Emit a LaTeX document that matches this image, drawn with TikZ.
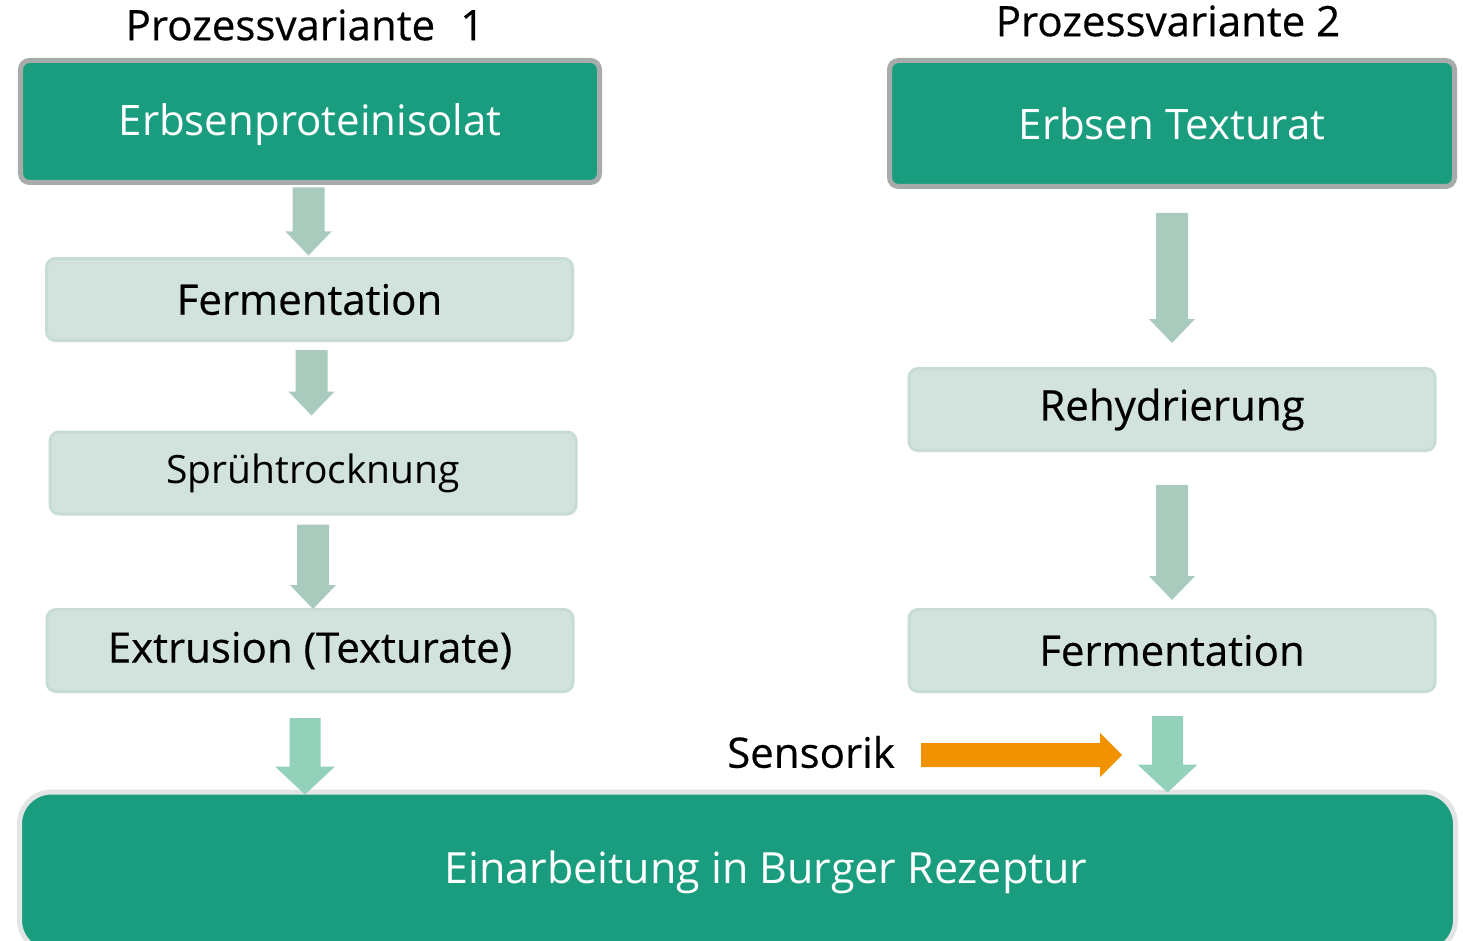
\documentclass[tikz,border=0pt]{standalone}
\usepackage{fontspec}
\setmainfont{Open Sans}
\newfontfamily\medfont{Open Sans}[FakeBold=0.45]
\usetikzlibrary{calc}

\definecolor{teal}{HTML}{1A9D7E}
\definecolor{tealedge}{HTML}{A7ACAA}
\definecolor{pale}{HTML}{D2E3DD}
\definecolor{paleedge}{HTML}{C7DDD4}
\definecolor{bigedge}{HTML}{E3E5E4}
\definecolor{sage}{HTML}{A9CBBE}
\definecolor{mint}{HTML}{93D1BA}
\definecolor{orange}{HTML}{F39200}

% block arrow pointing down: colour, start point, tip point
\newcommand{\downblock}[3]{%
  \path[fill=#1] let \p1=(#2), \p2=(#3) in
    (\x1-16pt,\y1) -- (\x1+16pt,\y1) -- (\x1+16pt,\y2+24pt) -- (\x1+23pt,\y2+24pt)
    -- (\x1,\y2) -- (\x1-23pt,\y2+24pt) -- (\x1-16pt,\y2+24pt) -- cycle;}
\newcommand{\downwide}[3]{%
  \path[fill=#1] let \p1=(#2), \p2=(#3) in
    (\x1-15.5pt,\y1) -- (\x1+15.5pt,\y1) -- (\x1+15.5pt,\y2+28pt) -- (\x1+30pt,\y2+28pt)
    -- (\x1,\y2) -- (\x1-30pt,\y2+28pt) -- (\x1-15.5pt,\y2+28pt) -- cycle;}

\begin{document}
\begin{tikzpicture}[x=1pt,y=-1pt,
  font=\fontsize{42}{48}\selectfont,
  headbox/.style={rectangle, rounded corners=9pt, fill=teal, draw=tealedge,
    line width=5pt, text=white, inner sep=0pt},
  stepbox/.style={rectangle, rounded corners=9pt, fill=pale, draw=paleedge,
    line width=3pt, text=black, inner sep=0pt, font=\fontsize{42}{48}\medfont,
    minimum width=526pt, minimum height=82pt},
  finalbox/.style={rectangle, rounded corners=32pt, fill=teal, draw=bigedge,
    line width=5pt, text=white, inner sep=0pt},
  title/.style={text=black, inner sep=0pt, font=\fontsize{42}{48}\medfont}]
\clip (0,0) rectangle (1463,941);
\fill[white] (0,0) rectangle (1463,941);

% column titles
\node[title] (t1) at (305,25) {Prozessvariante\hspace{0.6em}1};
\node[title] (t2) at (1168,21) {Prozessvariante 2};

% starting materials
\node[headbox, minimum width=579pt, minimum height=122pt] (iso) at (310,121.5) {};
\node[text=white, inner sep=0pt] (isotext) at (310,125) {Erbsenproteinisolat};
\node[headbox, minimum width=565pt, minimum height=126pt] (tex) at (1172,123.5) {};
\node[text=white, inner sep=0pt] (textext) at (1172,124) {Erbsen Texturat};

% process steps, variant 1
\node[stepbox] (ferm1) at (309.5,299.5) {Fermentation};
\node[stepbox, font=\fontsize{39}{44}\selectfont] (spray) at (313,473) {Sprühtrocknung};
\node[stepbox] (extr) at (310,650.5) {Extrusion (Texturate)};

% process steps, variant 2
\node[stepbox] (rehyd) at (1172,409.5) {Rehydrierung};
\node[stepbox] (ferm2) at (1172,650.5) {Fermentation};

% common final step
\node[finalbox, minimum width=1436pt, minimum height=160pt] (burger) at (737.5,872) {};
\node[text=white, inner sep=0pt, font=\fontsize{43}{48}\selectfont] (burgertext) at (766,872) {Einarbeitung in Burger Rezeptur};

% sensory input
\node[title] (sens) at (811,752) {Sensorik};

% arrows, variant 1
\downblock{sage}{$(iso.south)+(-1.5,2.5)$}{$(ferm1.north)+(-1,-1.5)$}
\downblock{sage}{$(ferm1.south)+(2,8)$}{$(spray.north)+(-2,-15)$}
\downblock{sage}{$(spray.south)+(0,9)$}{$(extr.north)+(2,1)$}
\downwide{mint}{$(extr.south)+(-5,25)$}{$(burger.north)+(-432.5,5)$}

% arrows, variant 2
\downblock{sage}{$(tex.south)+(0,24)$}{$(rehyd.north)+(0,-24)$}
\downblock{sage}{$(rehyd.south)+(0,33)$}{$(ferm2.north)+(0,-8)$}
\downwide{mint}{$(ferm2.south)+(-4.5,23)$}{$(burger.north)+(430,3)$}

% orange arrow from Sensorik
\coordinate (otip) at (1122,755);
\path[fill=orange] let \p1=(921,755), \p2=(otip) in
  (\x1,\y2+12pt) -- (\x2-22pt,\y2+12pt) -- (\x2-22pt,\y2+22pt) -- (\x2,\y2)
  -- (\x2-22pt,\y2-22pt) -- (\x2-22pt,\y2-12pt) -- (\x1,\y2-12pt) -- cycle;
\end{tikzpicture}
\end{document}
